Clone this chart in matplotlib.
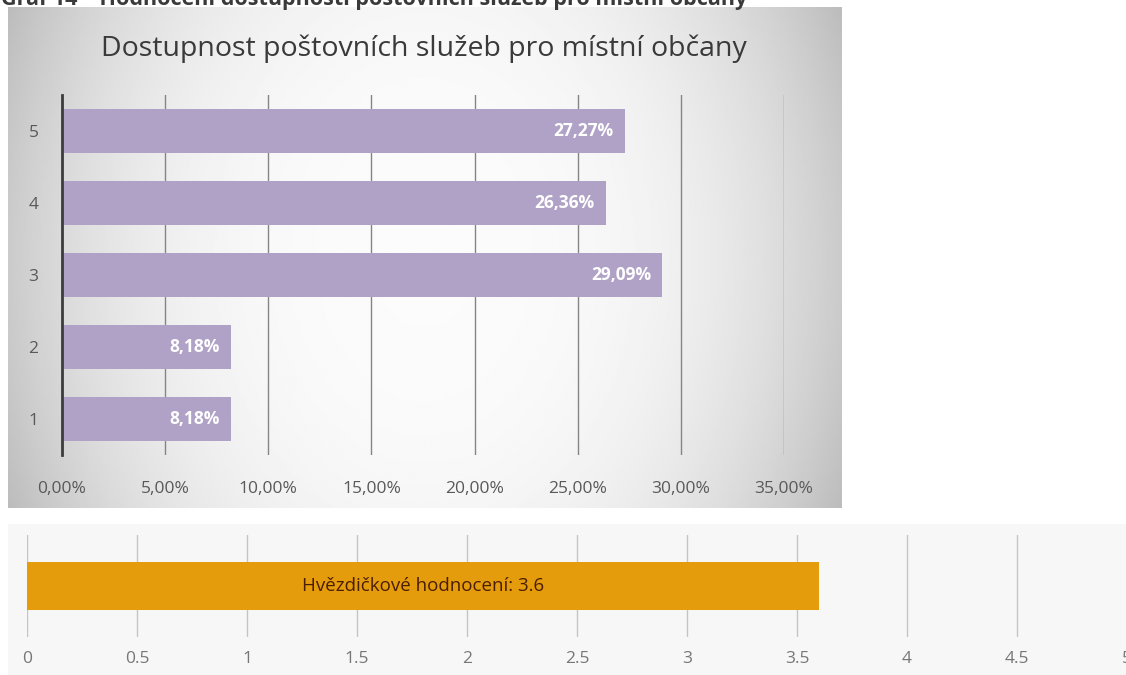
import numpy as np
import matplotlib
matplotlib.use("Agg")
import matplotlib.pyplot as plt

# data
categories = ['1', '2', '3', '4', '5']
shares = [8.18, 8.18, 29.09, 26.36, 27.27]
pct_ticks = [0, 5, 10, 15, 20, 25, 30, 35]
rating_label = 'Hvězdičkové hodnocení'
rating = 3.6
rating_ticks = [0, 0.5, 1, 1.5, 2, 2.5, 3, 3.5, 4, 4.5, 5]

W, H = 1126, 675


def px_rect(x0, y0, x1, y1):
    # pixel box (top-left origin) -> figure fraction rect
    return [x0 / W, 1 - y1 / H, (x1 - x0) / W, (y1 - y0) / H]


def cz(v, dec=2):
    return f"{v:.{dec}f}".replace('.', ',')


fig = plt.figure(figsize=(W / 100, H / 100), dpi=100)
fig.patch.set_facecolor('white')

# ---------------- top chart: gradient panel ----------------
bg = fig.add_axes(px_rect(8, 7, 842, 508))
xx = np.linspace(-1, 1, 400)
yy = np.linspace(-1, 1, 200)
X, Y = np.meshgrid(xx, yy)
r = np.sqrt(X ** 2 + (Y / 2.2) ** 2)
grad = np.clip(0.985 - 0.19 * r ** 2.8, 0, 1)
bg.imshow(grad, cmap='gray', vmin=0, vmax=1, aspect='auto', extent=[0, 1, 0, 1])
bg.set_axis_off()

ax = fig.add_axes(px_rect(62, 95, 784, 455))
ax.set_facecolor('none')
ypos = np.arange(1, len(categories) + 1)
ax.barh(ypos, shares, height=0.6, color='#b0a2c6', zorder=3)
ax.set_xlim(0, 35)
ax.set_ylim(0.5, 5.5)
ax.set_xticks(pct_ticks)
ax.set_xticklabels([cz(t) + '%' for t in pct_ticks])
ax.set_yticks(ypos)
ax.set_yticklabels(categories)
for t in pct_ticks[1:]:
    ax.axvline(t, color='#858585', lw=1.0, zorder=1)
for s in ['top', 'right', 'bottom']:
    ax.spines[s].set_visible(False)
ax.spines['left'].set_color('#3c3c3c')
ax.spines['left'].set_linewidth(2)
ax.spines['left'].set_zorder(4)
ax.tick_params(axis='both', length=0, colors='#595959', labelsize=12.5)
ax.tick_params(axis='x', pad=19)
ax.tick_params(axis='y', pad=17)
for lab in ax.get_xticklabels() + ax.get_yticklabels():
    lab.set_family('Open Sans')
for y, v in zip(ypos, shares):
    ax.annotate(cz(v) + '%', (v, y), xytext=(-8, 0), textcoords='offset points',
                ha='right', va='center', color='white', fontsize=12.5,
                fontweight='bold', family='Open Sans', zorder=5)

fig.text(424 / W, 1 - 49 / H, 'Dostupnost poštovních služeb pro místní občany',
         fontsize=20.5, color='#3a3a3a', family='Open Sans', ha='center', va='center')

# clipped caption at the very top
fig.text(1 / W, 1 - 5 / H, 'Graf 14 – Hodnocení dostupnosti poštovních služeb pro místní občany',
         fontsize=15.5, fontweight='bold', color='#3a3a3a', family='Open Sans',
         ha='left', va='baseline', zorder=10)

# ---------------- bottom chart: star rating ----------------
bg2 = fig.add_axes(px_rect(8, 524, 1130, 680))
bg2.set_facecolor('#f7f7f7')
bg2.set_xticks([])
bg2.set_yticks([])
for s in bg2.spines.values():
    s.set_visible(False)

ax2 = fig.add_axes(px_rect(27, 535, 1127, 637))
ax2.set_facecolor('none')
ax2.barh([0.5], [rating], height=0.48, color='#e59c0c', zorder=3)
ax2.set_xlim(0, 5)
ax2.set_ylim(0, 1)
ax2.set_xticks(rating_ticks)
ax2.set_xticklabels([f"{t:g}" for t in rating_ticks])
ax2.set_yticks([])
for t in rating_ticks:
    ax2.axvline(t, color='#c4c4c4', lw=1.0, zorder=1)
for s in ax2.spines.values():
    s.set_visible(False)
ax2.tick_params(axis='x', length=0, colors='#777777', labelsize=12.5, pad=10)
for lab in ax2.get_xticklabels():
    lab.set_family('Open Sans')
ax2.text(rating / 2, 0.5, f"{rating_label}: {rating:g}", ha='center', va='center',
         color='#4a1e00', fontsize=13.5, family='Open Sans', zorder=5)

fig.savefig('out.png', dpi=100)
